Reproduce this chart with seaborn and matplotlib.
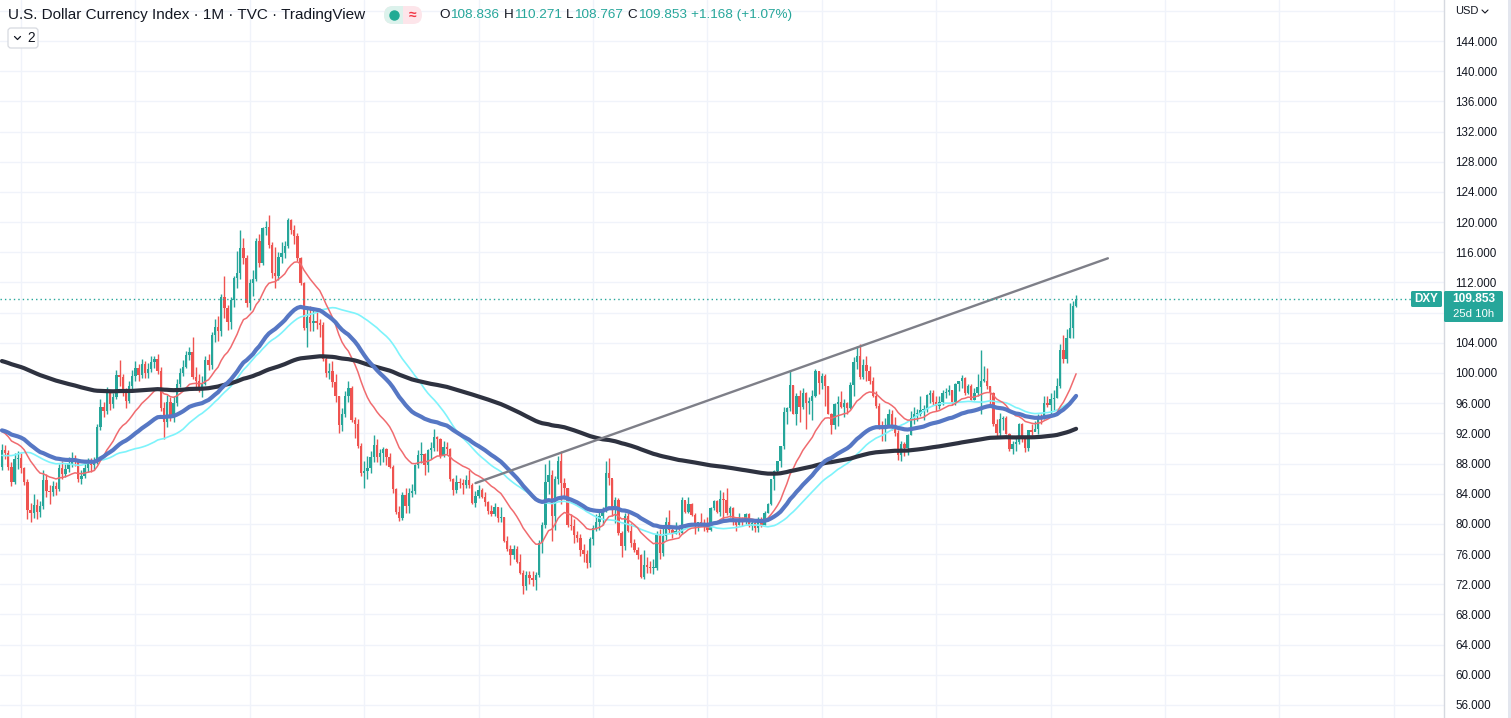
import numpy as np
import pandas as pd
import matplotlib
matplotlib.use("Agg")
import matplotlib.pyplot as plt
import seaborn as sns
from matplotlib.patches import FancyBboxPatch
from matplotlib.lines import Line2D
from matplotlib.transforms import IdentityTransform

# ---------------- data (monthly, Jul 1994 .. Sep 2022) ----------------
first_month = "1994-07"
last_month = "2022-09"
open_first = 87.6

closes = [
    89.8, 89.4, 87.6, 85.6, 88.6, 88.7,                                   # 1994 H2
    87.4, 85.6, 81.8, 81.4, 82.5, 81.6, 82.4, 85.8, 84.4, 84.2, 85.0, 84.6,   # 1995
    87.4, 86.6, 87.3, 88.0, 88.5, 88.2, 85.9, 86.4, 87.4, 87.9, 87.8, 88.3,   # 1996
    92.8, 95.5, 94.9, 97.3, 95.9, 96.8, 99.7, 99.5, 97.7, 96.3, 98.3, 99.6,   # 1997
    100.6, 99.7, 101.2, 100.0, 100.5, 101.5, 101.8, 100.2, 95.3, 93.5, 96.2, 94.2,  # 1998
    96.0, 98.6, 100.0, 100.8, 102.4, 102.8, 99.5, 99.0, 98.2, 98.6, 101.7, 101.1,   # 1999
    105.0, 106.1, 105.5, 110.1, 108.6, 106.8, 109.7, 112.6, 113.2, 116.5, 115.2, 109.3,  # 2000
    111.9, 112.5, 117.5, 114.6, 119.2, 119.4, 117.0, 113.3, 112.9, 115.4, 115.9, 116.8,  # 2001
    120.3, 119.0, 118.1, 115.2, 111.9, 106.0, 107.4, 106.6, 106.9, 106.6, 106.3, 101.9,  # 2002
    100.0, 100.3, 98.8, 96.9, 93.1, 94.6, 96.9, 98.0, 93.8, 93.2, 90.3, 86.8,   # 2003
    87.0, 87.4, 88.9, 90.4, 88.8, 89.4, 89.9, 88.9, 87.6, 84.6, 81.6, 80.8,     # 2004
    83.8, 82.4, 84.1, 84.4, 87.8, 89.1, 89.2, 87.8, 89.8, 90.0, 91.5, 91.2,     # 2005
    89.0, 90.2, 89.9, 86.0, 84.5, 85.6, 85.4, 85.1, 85.8, 85.2, 82.8, 83.7,     # 2006
    84.5, 83.6, 82.9, 81.7, 81.3, 82.2, 80.8, 80.9, 77.7, 76.7, 75.9, 76.7,     # 2007
    75.0, 73.5, 71.8, 73.2, 72.8, 72.5, 73.2, 77.4, 79.9, 85.6, 86.5, 81.0,     # 2008
    86.0, 88.4, 85.4, 84.7, 79.9, 79.7, 78.5, 78.1, 76.5, 76.0, 74.8, 78.0,     # 2009
    79.5, 80.3, 81.0, 82.0, 86.7, 86.1, 81.9, 83.2, 78.8, 77.1, 81.0, 79.0,     # 2010
    77.4, 76.5, 75.9, 73.0, 74.6, 74.3, 74.2, 74.2, 78.5, 76.2, 78.4, 80.2,     # 2011
    79.2, 78.7, 79.0, 78.8, 83.2, 81.6, 82.7, 81.2, 79.9, 80.2, 80.1, 79.8,     # 2012
    79.2, 82.1, 83.0, 81.6, 83.3, 83.1, 81.5, 82.1, 80.2, 79.9, 80.7, 80.2,     # 2013
    81.3, 79.7, 80.1, 79.5, 80.4, 79.8, 81.5, 82.7, 85.9, 87.0, 88.4, 90.3,     # 2014
    94.8, 95.3, 98.4, 94.6, 96.9, 95.5, 97.3, 96.0, 96.3, 97.0, 100.2, 98.7,    # 2015
    99.6, 98.3, 94.6, 93.1, 95.9, 96.1, 95.5, 96.0, 95.4, 98.4, 101.5, 102.2,   # 2016
    99.5, 101.1, 100.3, 99.0, 97.0, 95.6, 92.9, 92.7, 93.1, 94.5, 93.0, 92.1,   # 2017
    89.1, 90.6, 90.1, 91.8, 94.0, 94.5, 94.5, 95.1, 95.1, 97.1, 97.3, 96.2,     # 2018
    95.6, 96.2, 97.3, 97.5, 97.8, 96.1, 98.5, 98.9, 99.4, 97.4, 98.3, 96.4,     # 2019
    97.4, 98.1, 99.0, 99.0, 98.3, 97.4, 93.3, 92.1, 93.9, 94.0, 91.9, 89.9,     # 2020
    90.6, 90.9, 93.2, 91.3, 90.0, 92.4, 92.2, 92.6, 94.2, 94.1, 96.0, 95.7,     # 2021
    96.5, 96.7, 98.3, 103.0, 101.8, 104.7, 105.9, 108.836, 109.853,            # 2022
]

highs = [
    90.6, 90.5, 89.8, 88.2, 89.4, 89.7,
    89.4, 87.6, 86.0, 82.8, 84.0, 83.3, 83.0, 87.2, 86.6, 85.2, 85.7, 85.6,
    88.0, 88.3, 88.0, 88.9, 89.5, 89.1, 88.6, 87.1, 88.2, 88.7, 88.7, 88.9,
    93.3, 96.6, 96.2, 98.1, 97.8, 97.4, 100.4, 101.7, 99.8, 98.0, 98.9, 100.4,
    101.6, 101.2, 101.9, 101.6, 101.3, 102.3, 102.2, 102.5, 100.8, 96.1, 97.1, 96.8,
    97.0, 99.2, 100.7, 101.7, 102.9, 103.5, 104.8, 100.8, 99.8, 99.6, 102.3, 102.5,
    105.4, 107.2, 107.5, 110.5, 112.8, 109.0, 110.1, 112.9, 116.2, 119.0, 117.9, 115.6,
    112.5, 113.6, 117.9, 118.4, 119.4, 120.2, 121.0, 117.3, 116.7, 116.1, 117.3, 117.5,
    120.5, 120.4, 119.6, 118.6, 115.4, 112.1, 108.7, 108.9, 108.3, 108.3, 107.2, 106.8,
    102.3, 101.3, 101.6, 99.8, 97.0, 95.4, 97.6, 99.0, 98.3, 94.1, 93.9, 90.7,
    88.3, 89.0, 89.6, 91.8, 91.3, 89.9, 90.2, 90.0, 89.4, 87.8, 84.8, 82.4,
    84.2, 84.8, 84.7, 85.3, 87.9, 89.8, 90.8, 89.4, 89.9, 90.8, 92.6, 91.6,
    91.4, 91.0, 90.9, 90.1, 86.1, 86.5, 86.1, 85.9, 86.5, 87.2, 85.4, 84.3,
    85.2, 84.8, 84.2, 83.0, 82.5, 82.8, 82.3, 82.3, 80.9, 78.4, 77.2, 77.2,
    77.1, 76.0, 73.9, 73.7, 73.8, 73.7, 73.6, 77.9, 80.2, 87.9, 88.5, 87.2,
    86.4, 89.0, 89.6, 86.1, 84.8, 81.3, 80.6, 79.1, 78.6, 77.3, 76.6, 78.2,
    79.9, 81.3, 82.0, 82.3, 88.3, 88.7, 86.0, 83.5, 83.4, 79.1, 81.4, 81.4,
    80.1, 78.0, 77.0, 76.0, 76.5, 75.6, 75.1, 75.3, 79.1, 79.3, 79.8, 80.9,
    81.8, 79.6, 80.3, 79.8, 83.5, 83.0, 83.5, 82.8, 81.4, 80.3, 81.4, 80.6,
    80.9, 82.3, 83.2, 83.2, 84.5, 84.2, 84.7, 82.4, 82.3, 80.3, 81.5, 80.9,
    81.5, 81.4, 80.7, 80.5, 80.9, 80.9, 81.7, 82.8, 86.0, 87.1, 88.4, 90.3,
    95.5, 95.5, 100.4, 98.4, 97.3, 97.7, 98.0, 97.5, 96.8, 97.8, 100.5, 100.3,
    100.0, 99.8, 98.3, 94.7, 96.0, 96.9, 97.6, 96.6, 96.2, 98.8, 102.1, 103.6,
    103.8, 101.8, 102.3, 100.9, 99.5, 97.6, 96.0, 93.6, 94.0, 95.2, 95.1, 94.2,
    92.5, 91.0, 90.9, 91.9, 95.0, 95.5, 95.2, 96.9, 95.7, 97.2, 97.7, 97.7,
    96.9, 96.9, 97.7, 98.0, 98.4, 97.8, 98.7, 99.0, 99.7, 99.5, 98.6, 98.5,
    98.0, 99.9, 103.0, 100.9, 100.6, 98.3, 97.5, 93.9, 94.7, 94.3, 94.3, 92.1,
    91.0, 91.5, 93.4, 93.4, 91.4, 92.5, 93.2, 93.7, 94.5, 94.6, 96.9, 96.9,
    97.4, 97.8, 99.4, 103.9, 105.0, 105.8, 109.3, 109.5, 110.271,
]

lows = [
    87.2, 88.6, 87.1, 85.0, 85.3, 87.3,
    86.8, 85.1, 80.7, 80.2, 80.8, 80.7, 80.9, 82.0, 83.6, 82.6, 83.7, 83.8,
    84.4, 85.9, 86.2, 86.9, 87.6, 87.7, 85.6, 85.3, 86.1, 86.9, 86.9, 87.1,
    88.0, 92.4, 94.1, 94.5, 95.1, 95.4, 96.5, 98.3, 97.0, 95.4, 96.0, 97.9,
    98.9, 99.0, 99.3, 99.4, 99.4, 100.1, 100.6, 99.9, 94.9, 91.3, 92.9, 93.6,
    93.5, 95.6, 98.1, 99.6, 100.6, 101.7, 99.2, 97.8, 97.5, 96.8, 98.4, 100.4,
    100.5, 104.1, 104.3, 104.9, 107.3, 105.7, 105.8, 108.7, 111.3, 112.4, 114.5, 108.7,
    108.3, 110.2, 112.2, 114.1, 114.3, 118.3, 116.6, 112.6, 111.3, 112.3, 114.6, 115.3,
    116.5, 118.4, 117.1, 114.8, 111.7, 105.7, 103.5, 105.6, 105.6, 105.8, 104.8, 101.6,
    99.5, 99.2, 98.2, 96.2, 92.0, 92.3, 94.2, 96.2, 93.5, 91.4, 90.0, 86.4,
    84.8, 85.9, 86.8, 88.2, 88.2, 87.8, 88.2, 87.8, 87.4, 84.1, 81.3, 80.4,
    80.5, 81.5, 81.4, 83.6, 84.0, 87.4, 88.1, 86.5, 86.9, 88.6, 89.6, 89.7,
    88.7, 88.8, 89.2, 85.7, 83.8, 84.1, 84.8, 84.0, 84.8, 84.8, 82.6, 82.3,
    83.4, 83.4, 82.4, 81.3, 81.1, 81.1, 80.3, 80.2, 77.6, 76.4, 74.5, 75.3,
    74.8, 73.3, 70.7, 71.3, 72.0, 71.8, 71.3, 72.9, 76.1, 79.4, 84.0, 77.7,
    79.2, 85.3, 82.7, 83.3, 79.6, 79.2, 77.5, 77.6, 75.8, 74.9, 74.2, 74.3,
    77.2, 79.0, 79.2, 79.9, 81.6, 85.1, 81.0, 80.1, 78.5, 75.6, 76.6, 78.9,
    76.9, 76.3, 75.3, 72.8, 72.7, 73.5, 73.5, 73.4, 73.9, 75.3, 75.8, 77.9,
    78.8, 78.1, 78.6, 78.5, 78.7, 81.4, 81.4, 81.1, 78.6, 79.0, 79.7, 79.0,
    78.9, 79.0, 81.8, 81.5, 81.1, 80.5, 81.2, 80.9, 79.9, 79.0, 79.8, 79.7,
    80.0, 79.6, 79.2, 78.9, 78.9, 79.6, 79.8, 81.4, 82.5, 84.5, 86.9, 87.6,
    89.9, 93.2, 94.9, 94.5, 93.1, 93.5, 95.2, 92.6, 94.6, 93.8, 96.8, 97.2,
    97.9, 95.6, 94.5, 91.9, 92.6, 93.0, 95.3, 94.1, 94.6, 95.2, 97.0, 100.5,
    99.2, 99.2, 98.9, 98.6, 96.8, 95.4, 92.6, 91.0, 91.0, 92.8, 92.5, 91.7,
    88.5, 88.3, 89.0, 89.1, 91.8, 93.2, 93.7, 94.3, 93.8, 94.8, 96.0, 95.7,
    95.0, 95.2, 95.7, 96.7, 97.1, 95.8, 95.8, 97.6, 98.0, 97.1, 97.2, 96.4,
    96.4, 97.0, 94.6, 98.8, 97.9, 95.7, 93.0, 91.7, 91.7, 92.5, 91.9, 89.7,
    89.2, 89.7, 90.6, 90.9, 89.5, 89.7, 91.8, 92.3, 91.9, 93.3, 93.9, 95.5,
    94.6, 95.1, 96.7, 98.0, 101.3, 101.3, 104.7, 104.6, 108.767,
]

# closes Jun 1990 .. Jun 1994, only used to warm up the 50-month SMA
pre_closes = [
    91.4, 87.0, 85.5, 84.7, 81.6, 81.0, 82.8,
    80.8, 83.9, 91.7, 93.2, 94.2, 97.1, 94.3, 93.2, 90.6, 89.6, 86.1, 84.9,
    88.6, 90.4, 91.7, 91.2, 88.7, 85.1, 81.4, 79.3, 80.9, 86.0, 89.2, 90.6,
    91.3, 91.2, 88.4, 86.4, 87.4, 91.0, 93.4, 92.3, 90.5, 93.0, 94.6, 95.9,
    95.6, 93.2, 92.4, 91.3, 91.8, 87.6,
]
# moving-average values just before the first visible month
ema20_seed = 92.5
ema50_seed = 92.5
ema200_seed = 101.7

# trend line (month, price)
trend_months = ["2006-12", "2023-07"]
trend_prices = [85.4, 115.2]

# price-scale labels (108 is hidden behind the last-price label)
y_ticks = [56, 60, 64, 68, 72, 76, 80, 84, 88, 92, 96, 100, 104, 112, 116, 120,
           124, 128, 132, 136, 140, 144]
grid_levels = list(range(52, 152, 4))
grid_years = list(range(1995, 2032, 3))

title = "U.S. Dollar Currency Index \u00b7 1M \u00b7 TVC \u00b7 TradingView"
ohlc_labels = ["O", "H", "L", "C"]
ohlc_values = ["108.836", "110.271", "108.767", "109.853"]
change_text = "+1.168 (+1.07%)"
countdown = "25d 10h"

# ---------------- derived series ----------------
months = pd.period_range(first_month, last_month, freq="M")
p0 = pd.Period(first_month, freq="M")
def midx(s):
    return (pd.Period(s, freq="M") - p0).n

x = np.arange(len(months))
c = np.array(closes, dtype=float)
o = np.concatenate([[open_first], c[:-1]])
h = np.array(highs, dtype=float)
l = np.array(lows, dtype=float)

ema20 = pd.Series([ema20_seed] + closes).ewm(span=20, adjust=False).mean().values[1:]
ema50 = pd.Series([ema50_seed] + closes).ewm(span=50, adjust=False).mean().values[1:]
ema200 = pd.Series([ema200_seed] + closes).ewm(span=200, adjust=False).mean().values[1:]
sma50 = pd.Series(pre_closes + closes).rolling(50).mean().values[len(pre_closes):]

# ---------------- style ----------------
sns.set_theme(style="white")
plt.rcParams["font.family"] = ["Liberation Sans", "DejaVu Sans"]

W, H = 1511, 718
fig = plt.figure(figsize=(W / 100, H / 100), dpi=100)
fig.patch.set_facecolor("white")
AX_R = 1444
ax = fig.add_axes([0, 0, AX_R / W, 1])
ax.set_facecolor("white")

px_per_month = 3.178
x_left = -1.93 / px_per_month
x_right = x_left + AX_R / px_per_month
ax.set_xlim(x_left, x_right)
y_top = 144 + 41 / 7.545
y_bot = y_top - H / 7.545
ax.set_ylim(y_bot, y_top)

UP = "#26a69a"
DOWN = "#ef5350"
GRID = "#f0f3fa"
TXT = "#131722"

# grid
for v in grid_levels:
    ax.axhline(v, color=GRID, lw=1.0, zorder=0.5)
for yr in grid_years:
    ax.axvline(midx(f"{yr}-01"), color=GRID, lw=1.0, zorder=0.5)

# candles
up = c >= o
colors = np.where(up, UP, DOWN)
ax.vlines(x, l, h, colors=colors, lw=1.0, zorder=2)
body_lo = np.minimum(o, c)
body_h = np.maximum(np.abs(c - o), 0.14)
ax.bar(x, body_h, bottom=body_lo, width=0.74, color=colors, linewidth=0, zorder=2.5)

# moving averages
sns.lineplot(x=x, y=sma50, ax=ax, color="#7df3fb", lw=1.2, zorder=3, legend=False)
sns.lineplot(x=x, y=ema20, ax=ax, color="#f06b6f", lw=1.1, zorder=3.1, legend=False)
sns.lineplot(x=x, y=ema200, ax=ax, color="#2e3240", lw=3.0, zorder=3.2, legend=False)
sns.lineplot(x=x, y=ema50, ax=ax, color="#5677c4", lw=3.0, zorder=3.3, legend=False)

# trend line
tx = [midx(m) for m in trend_months]
sns.lineplot(x=tx, y=trend_prices, ax=ax, color="#7e7f88", lw=1.7, zorder=4, legend=False)

# last price dotted line
ax.axhline(c[-1], xmin=0, xmax=1411 / AX_R, color=UP, lw=1.0, ls=(0, (1, 2.2)), zorder=4)

# axis cosmetics
for s in ["left", "top", "bottom"]:
    ax.spines[s].set_visible(False)
ax.spines["right"].set_color("#d6d9e0")
ax.spines["right"].set_linewidth(1.0)
ax.set_xticks([])
ax.yaxis.tick_right()
ax.set_yticks(y_ticks)
ax.set_yticklabels([f"{v:.3f}" for v in y_ticks])
ax.tick_params(axis="y", length=0, pad=8, labelsize=8.4, labelcolor=TXT)
ax.set_xlabel("")
ax.set_ylabel("")

# ---------------- overlays (pixel coordinates, y measured from the top) ----------------
PIX = IdentityTransform()
def fx(px):
    return px / W
def fy(py):
    return 1 - py / H

def prect(x0, y0, x1, y1, color, z=5, r=0.0, ec="none", lw=0.0):
    p = FancyBboxPatch((x0, H - y1), x1 - x0, y1 - y0,
                       boxstyle=f"round,pad=0,rounding_size={r}",
                       transform=PIX, facecolor=color, edgecolor=ec, lw=lw, zorder=z)
    fig.add_artist(p)

# price label box and DXY tag
prect(1444, 291, 1503, 322, UP, z=5, r=1.5)
prect(1411, 291, 1442, 307, UP, z=5, r=1.5)
fig.text(fx(1426.5), fy(299.5), "DXY", color="white", fontsize=8.4, fontweight="bold",
         ha="center", va="center", zorder=6)
fig.text(fx(1473.5), fy(299.5), f"{closes[-1]:.3f}", color="white", fontsize=8.6,
         fontweight="bold", ha="center", va="center", zorder=6)
fig.text(fx(1473.5), fy(314), countdown, color="white", fontsize=8.2,
         ha="center", va="center", zorder=6)

# right edge strip
prect(1508, 0, 1511, 718, "#e3e6ee", z=5)

# USD currency selector
fig.text(fx(1455), fy(11), "USD", color=TXT, fontsize=8.0, ha="left", va="center", zorder=6)
fig.add_artist(Line2D([fx(1482), fx(1485), fx(1488)], [fy(10), fy(13), fy(10)],
                      transform=fig.transFigure, color=TXT, lw=0.8, zorder=6))

# header title
fig.text(fx(8), fy(15), title, color=TXT, fontsize=11.0, ha="left", va="center", zorder=6)

# status badges
prect(384, 6, 422, 24, "#fde5ea", z=5, r=9)
prect(384, 6, 403, 24, "#dcf2ec", z=5.1, r=9)
prect(396, 6, 403, 24, "#dcf2ec", z=5.2)
fig.add_artist(Line2D([fx(393.5)], [fy(15)], marker="o", markersize=6.5, color="#22ab94",
                      transform=fig.transFigure, zorder=6, linestyle="none"))
fig.text(fx(412.5), fy(15), "\u2248", color="#f23645", fontsize=10, fontweight="bold",
         ha="center", va="center", zorder=6)

# OHLC values, placed one after another
renderer = fig.canvas.get_renderer()
cur = 439.0
HDR_FS = 9.7
pieces = []
for lab, val in zip(ohlc_labels, ohlc_values):
    pieces.append((lab, TXT, 0.5))
    pieces.append((val, UP, 4.5))
pieces.append((change_text, UP, 0.0))
for txt, col, gap_after in pieces:
    t = fig.text(fx(cur), fy(15), txt, color=col, fontsize=HDR_FS, ha="left", va="center", zorder=6)
    bb = t.get_window_extent(renderer=renderer)
    cur = bb.x1 + gap_after

# indicator collapse button
prect(8, 28, 38, 48, "white", z=5, r=3, ec="#d6d9e0", lw=0.9)
fig.add_artist(Line2D([fx(14.5), fx(17.5), fx(20.5)], [fy(36.5), fy(39.5), fy(36.5)],
                      transform=fig.transFigure, color=TXT, lw=0.9, zorder=6))
fig.text(fx(27), fy(38), "2", color=TXT, fontsize=9.8, ha="left", va="center", zorder=6)

fig.savefig("out.png", dpi=100, facecolor="white")
